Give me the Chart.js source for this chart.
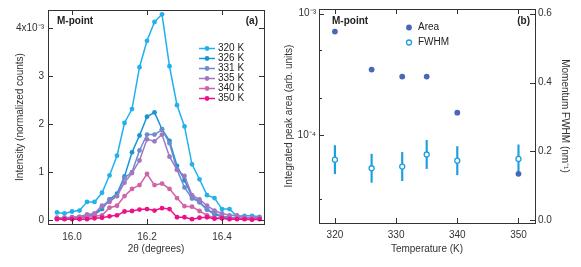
<!DOCTYPE html>
<html>
<head>
<meta charset="utf-8">
<script src="https://cdn.jsdelivr.net/npm/chart.js@4.4.0/dist/chart.umd.min.js"></script>
<style>
  html, body { margin: 0; padding: 0; background: #fff; }
  #wrap { position: relative; width: 581px; height: 267px; }
  #chartA { position: absolute; left: 0; top: 0; }
  #chartB { position: absolute; left: 280px; top: 0; }
</style>
</head>
<body>
<div id="wrap">
  <canvas id="chartA" width="280" height="267"></canvas>
  <canvas id="chartB" width="301" height="267"></canvas>
</div>
<script>
// Panel (a): M-point scans vs 2theta
const twoTheta = [15.96, 15.98, 16.00, 16.02, 16.04, 16.06, 16.08, 16.10, 16.12, 16.14,
                  16.16, 16.18, 16.20, 16.22, 16.24, 16.26, 16.28, 16.30, 16.32, 16.34,
                  16.36, 16.38, 16.40, 16.42, 16.44, 16.46, 16.48, 16.50];
const scanLabels = ['320 K', '326 K', '331 K', '335 K', '340 K', '350 K'];
const scan320 = [0.16, 0.14, 0.18, 0.20, 0.38, 0.38, 0.57, 0.93, 1.34, 2.02, 2.31, 3.18, 3.73, 4.12, 4.28, 3.20, 2.39, 1.95, 1.16, 0.85, 0.52, 0.46, 0.23, 0.23, 0.08, 0.09, 0.09, 0.07];
const scan326 = [0.04, 0.03, 0.04, 0.05, 0.08, 0.11, 0.23, 0.43, 0.55, 0.91, 1.41, 1.76, 2.15, 2.24, 1.89, 1.65, 1.13, 0.83, 0.49, 0.37, 0.22, 0.12, 0.07, 0.05, 0.04, 0.03, 0.03, 0.03];
const scan331 = [0.05, 0.04, 0.06, 0.07, 0.09, 0.12, 0.28, 0.42, 0.50, 0.88, 1.00, 1.45, 1.78, 1.78, 1.88, 1.60, 1.05, 0.68, 0.45, 0.38, 0.22, 0.15, 0.08, 0.06, 0.05, 0.04, 0.04, 0.03];
const scan335 = [0.04, 0.05, 0.06, 0.07, 0.12, 0.14, 0.30, 0.38, 0.50, 0.78, 0.98, 1.24, 1.68, 1.64, 1.78, 1.32, 1.05, 0.92, 0.52, 0.43, 0.30, 0.20, 0.14, 0.10, 0.10, 0.06, 0.05, 0.05];
const scan340 = [0.03, 0.03, 0.04, 0.05, 0.05, 0.08, 0.10, 0.26, 0.30, 0.50, 0.65, 0.73, 0.96, 0.73, 0.76, 0.65, 0.46, 0.29, 0.28, 0.19, 0.10, 0.05, 0.04, 0.03, 0.03, 0.03, 0.03, 0.03];
const scan350 = [0.02, 0.02, 0.02, 0.02, 0.02, 0.04, 0.05, 0.08, 0.10, 0.18, 0.19, 0.22, 0.23, 0.20, 0.25, 0.23, 0.06, 0.06, 0.02, 0.05, 0.06, 0.03, 0.04, 0.02, 0.02, 0.02, 0.01, 0.02];
const thetaTicks = [16.0, 16.2, 16.4];
const thetaTickLabels = ['16.0', '16.2', '16.4'];
const intensityTicks = [0, 1, 2, 3, 4];
const intensityTickLabels = ['0', '1', '2', '3', '4x10\u207B\u00B3'];

// Panel (b): area and FWHM vs temperature
const temperatures = [320, 326, 331, 335, 340, 350];
const peakArea = [7.1e-4, 3.46e-4, 3.03e-4, 3.03e-4, 1.53e-4, 4.8e-5];
const fwhm = [0.176, 0.151, 0.156, 0.191, 0.173, 0.178];
const fwhmErr = [0.041, 0.041, 0.041, 0.041, 0.041, 0.041];
const tempTicks = [320, 330, 340, 350];
const tempTickLabels = ['320', '330', '340', '350'];
const areaTicks = [3e-5, 1e-4, 2e-4, 5e-4, 1e-3];
const areaTickLabels = ['', '10\u207B\u2074', '', '', '10\u207B\u00B3'];
const fwhmTicks = [0, 0.2, 0.4, 0.6];
const fwhmTickLabels = ['0.0', '0.2', '0.4', '0.6'];

const scanColors = ['#22b1ec', '#1896d4', '#6c8dcd', '#9e78c3', '#d064a8', '#ec118b'];
const areaColor = '#4867b9';
const fwhmColor = '#1d9ee0';
const ink = '#333';
const FONT = '"Liberation Sans", Arial, sans-serif';

Chart.defaults.font.family = FONT;
Chart.defaults.font.size = 10;
Chart.defaults.color = ink;

// box around the plot with inward ticks on all four sides
const framePlugin = {
    id: 'frame',
    afterDraw(chart, args, opts) {
        const {ctx, chartArea: a, scales} = chart;
        const crisp = v => Math.round(v) + 0.5;
        const seg = (x1, y1, x2, y2) => { ctx.beginPath(); ctx.moveTo(x1, y1); ctx.lineTo(x2, y2); ctx.stroke(); };
        ctx.save();
        ctx.strokeStyle = ink;
        ctx.lineWidth = 1;
        ctx.strokeRect(crisp(a.left), crisp(a.top), Math.round(a.right - a.left), Math.round(a.bottom - a.top));
        const xs = scales.x;
        xs.ticks.forEach(t => {
            const px = crisp(xs.getPixelForValue(t.value));
            seg(px, a.bottom, px, a.bottom - 5);
            seg(px, a.top, px, a.top + 5);
        });
        const ls = scales[opts.left], rs = scales[opts.right];
        ls.ticks.forEach(t => {
            const py = crisp(ls.getPixelForValue(t.value));
            const len = t.label === '' ? 3 : 5;
            seg(a.left, py, a.left + len, py);
            if (opts.left === opts.right) seg(a.right, py, a.right - len, py);
        });
        if (opts.left !== opts.right) {
            rs.ticks.forEach(t => {
                const py = crisp(rs.getPixelForValue(t.value));
                seg(a.right, py, a.right - 5, py);
            });
        }
        ctx.restore();
    }
};

function drawText(ctx, text, x, y, bold, align) {
    ctx.font = (bold ? 'bold ' : '') + '10px ' + FONT;
    ctx.fillStyle = '#222';
    ctx.textAlign = align || 'left';
    ctx.textBaseline = 'middle';
    ctx.fillText(text, x, y);
}

const notesA = {
    id: 'notesA',
    afterDraw(chart) {
        const ctx = chart.ctx;
        ctx.save();
        drawText(ctx, 'M-point', 57, 21, true);
        drawText(ctx, '(a)', 258, 21, true, 'right');
        chart.data.datasets.forEach((ds, i) => {
            const y = 48.5 + i * 10;
            ctx.strokeStyle = ds.borderColor;
            ctx.lineWidth = 1.5;
            ctx.beginPath(); ctx.moveTo(199, y); ctx.lineTo(215, y); ctx.stroke();
            ctx.fillStyle = ds.borderColor;
            ctx.beginPath(); ctx.arc(207, y, 2.4, 0, Math.PI * 2); ctx.fill();
            drawText(ctx, ds.label, 218, y, false);
        });
        ctx.restore();
    }
};

const notesB = {
    id: 'notesB',
    afterDraw(chart) {
        const ctx = chart.ctx;
        ctx.save();
        drawText(ctx, 'M-point', 52, 21, true);
        drawText(ctx, '(b)', 250, 21, true, 'right');
        ctx.fillStyle = areaColor;
        ctx.beginPath(); ctx.arc(129, 27.5, 2.9, 0, Math.PI * 2); ctx.fill();
        drawText(ctx, 'Area', 138, 27.5, false);
        ctx.strokeStyle = fwhmColor;
        ctx.lineWidth = 1.3;
        ctx.fillStyle = '#fff';
        ctx.beginPath(); ctx.arc(129, 42.5, 2.5, 0, Math.PI * 2); ctx.fill(); ctx.stroke();
        drawText(ctx, 'FWHM', 138, 42.5, false);
        ctx.restore();
    }
};

const scanSeries = [scan320, scan326, scan331, scan335, scan340, scan350];

new Chart(document.getElementById('chartA'), {
    type: 'line',
    data: {
        datasets: scanSeries.map((s, i) => ({
            label: scanLabels[i],
            data: twoTheta.map((x, j) => ({x: x, y: s[j]})),
            borderColor: scanColors[i],
            backgroundColor: scanColors[i],
            borderWidth: 1.5,
            pointRadius: 2.4,
            pointBorderWidth: 0,
            tension: 0,
            order: scanSeries.length - i
        }))
    },
    options: {
        responsive: false,
        animation: false,
        layout: { padding: { left: 0, top: 7, right: 16, bottom: 0 } },
        plugins: {
            legend: { display: false },
            tooltip: { enabled: false },
            frame: { left: 'y', right: 'y' }
        },
        scales: {
            x: {
                type: 'linear',
                min: 15.936,
                max: 16.512,
                grid: { display: false, drawTicks: false },
                border: { display: false },
                afterBuildTicks: s => { s.ticks = thetaTicks.map(v => ({value: v})); },
                afterFit: s => { s.height = 43; },
                ticks: { autoSkip: false, maxRotation: 0, padding: 7, callback: (v, i) => thetaTickLabels[i] },
                title: { display: true, text: '2\u03B8 (degrees)', padding: { top: 0, bottom: 12 } }
            },
            y: {
                min: -0.08,
                max: 4.37,
                grid: { display: false, drawTicks: false },
                border: { display: false },
                afterBuildTicks: s => { s.ticks = intensityTicks.map(v => ({value: v})); },
                afterFit: s => { s.width = 48; },
                ticks: { autoSkip: false, padding: 4, callback: (v, i) => intensityTickLabels[i] },
                title: { display: true, text: 'Intensity (normalized counts)', padding: { top: 14, bottom: 0 } }
            }
        }
    },
    plugins: [framePlugin, notesA]
});

new Chart(document.getElementById('chartB'), {
    type: 'scatter',
    data: {
        datasets: [
            {
                label: 'FWHM',
                data: temperatures.map((t, i) => ({x: t, y: fwhm[i]})),
                yAxisID: 'y2',
                pointRadius: 2.5,
                pointBorderWidth: 1.3,
                borderColor: fwhmColor,
                backgroundColor: '#fff',
                order: 1
            },
            {
                label: 'Area',
                data: temperatures.map((t, i) => ({x: t, y: peakArea[i]})),
                yAxisID: 'y',
                pointRadius: 2.9,
                pointBorderWidth: 0,
                backgroundColor: areaColor,
                order: 2
            },
            {
                type: 'bar',
                label: 'FWHM error',
                data: temperatures.map((t, i) => ({x: t, y: [fwhm[i] - fwhmErr[i], fwhm[i] + fwhmErr[i]]})),
                yAxisID: 'y2',
                barThickness: 1.5,
                backgroundColor: fwhmColor,
                borderWidth: 0,
                order: 3
            }
        ]
    },
    options: {
        responsive: false,
        animation: false,
        layout: { padding: { left: 0, top: 7, right: 0, bottom: 0 } },
        plugins: {
            legend: { display: false },
            tooltip: { enabled: false },
            frame: { left: 'y', right: 'y2' }
        },
        scales: {
            x: {
                type: 'linear',
                min: 317.4,
                max: 352.7,
                offset: false,
                grid: { display: false, offset: false, drawTicks: false },
                border: { display: false },
                afterBuildTicks: s => { s.ticks = tempTicks.map(v => ({value: v})); },
                afterFit: s => { s.height = 44; },
                ticks: { autoSkip: false, maxRotation: 0, padding: 6, callback: (v, i) => tempTickLabels[i] },
                title: { display: true, text: 'Temperature (K)', padding: { top: 0, bottom: 12 } }
            },
            y: {
                type: 'logarithmic',
                position: 'left',
                min: 1.89e-5,
                max: 1.09e-3,
                grid: { display: false, drawTicks: false },
                border: { display: false },
                afterBuildTicks: s => { s.ticks = areaTicks.map(v => ({value: v})); },
                afterFit: s => { s.width = 39; },
                ticks: { autoSkip: false, padding: 3, callback: (v, i) => areaTickLabels[i] },
                title: { display: true, text: 'Integrated peak area (arb. units)', padding: { top: 3, bottom: 0 } }
            },
            y2: {
                type: 'linear',
                position: 'right',
                min: -0.008,
                max: 0.6135,
                grid: { display: false, drawTicks: false },
                border: { display: false },
                afterBuildTicks: s => { s.ticks = fwhmTicks.map(v => ({value: v})); },
                afterFit: s => { s.width = 46; },
                ticks: { autoSkip: false, padding: 3, callback: (v, i) => fwhmTickLabels[i] },
                title: { display: true, text: 'Momentum FWHM (nm\u207B\u00B9)', padding: { top: 10, bottom: 0 } }
            }
        }
    },
    plugins: [framePlugin, notesB]
});
</script>
</body>
</html>
